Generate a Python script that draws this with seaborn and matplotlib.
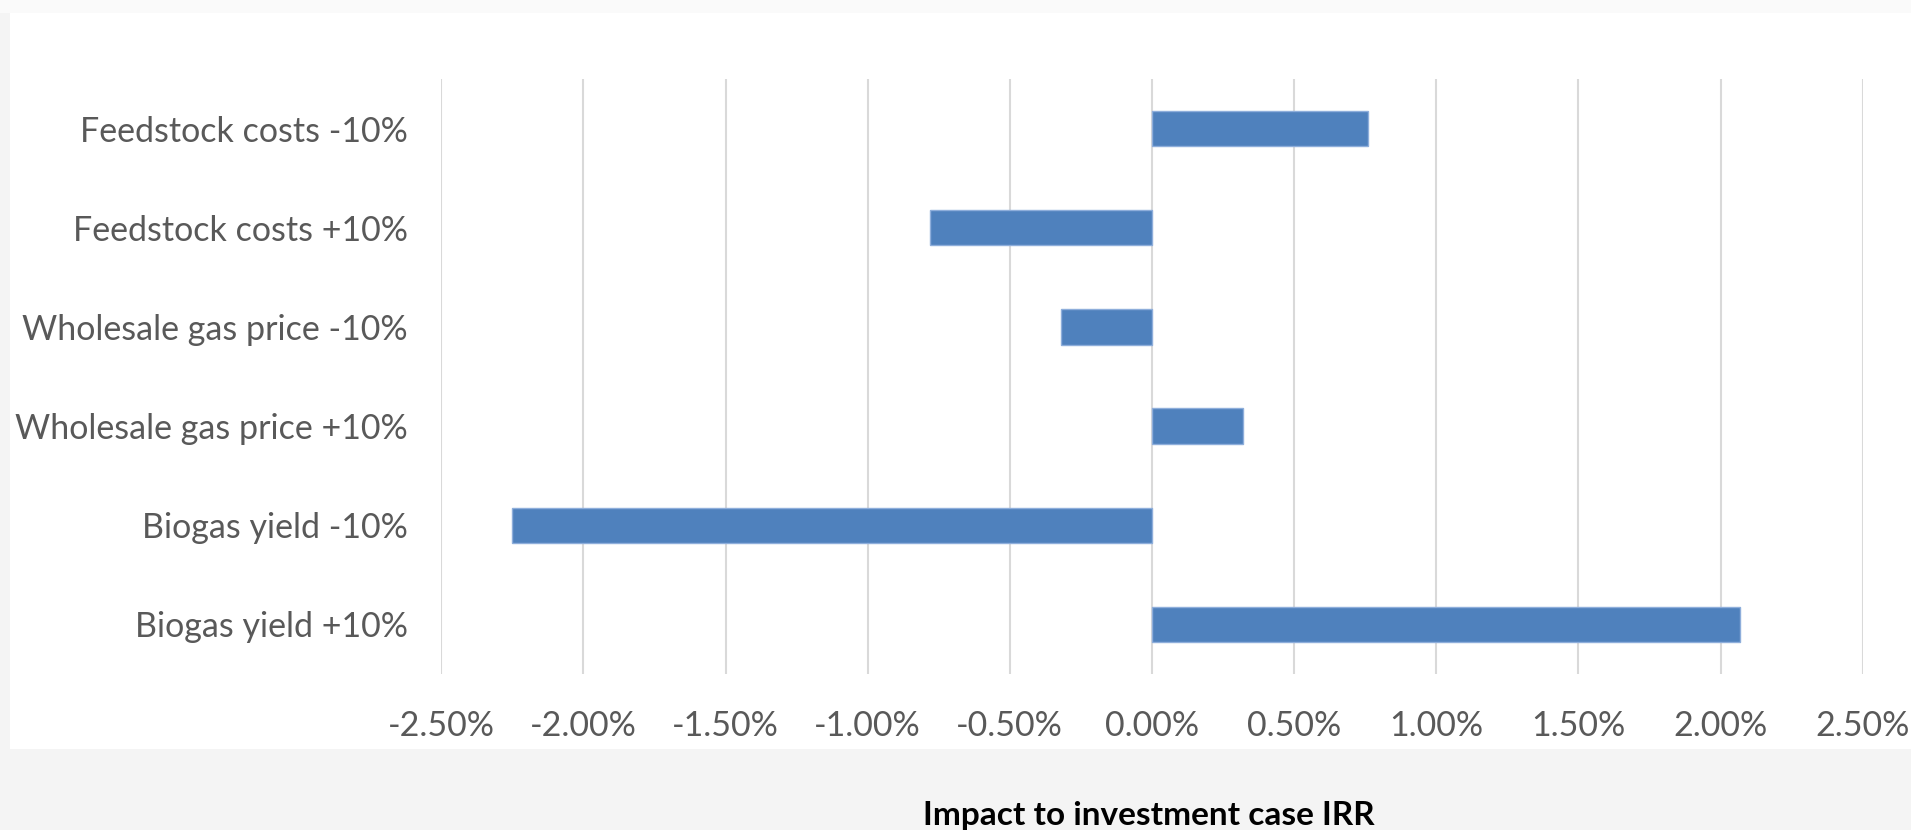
import matplotlib
matplotlib.use("Agg")
import matplotlib.pyplot as plt
from matplotlib.patches import Rectangle
from matplotlib.ticker import FuncFormatter
import seaborn as sns

# Sensitivity scenarios and their impact on IRR (percentage points)
scenarios = [
    "Feedstock costs -10%",
    "Feedstock costs +10%",
    "Wholesale gas price -10%",
    "Wholesale gas price +10%",
    "Biogas yield -10%",
    "Biogas yield +10%",
]
irr_impact = [0.76, -0.78, -0.32, 0.32, -2.25, 2.07]
x_ticks = [-2.5, -2.0, -1.5, -1.0, -0.5, 0.0, 0.5, 1.0, 1.5, 2.0, 2.5]
x_title = "Impact to investment case IRR"

sns.set_theme(style="white")
plt.rcParams["font.family"] = ["Lato", "DejaVu Sans"]
plt.rcParams["axes.unicode_minus"] = False

W, H, DPI = 1911, 830, 100
fig = plt.figure(figsize=(W / DPI, H / DPI), dpi=DPI, facecolor="#f4f4f4")

# panel backgrounds
fig.patches.append(Rectangle((0, 1 - 13 / H), 1, 13 / H, transform=fig.transFigure,
                             facecolor="#fafafa", edgecolor="none", zorder=-5))
fig.patches.append(Rectangle((10 / W, 1 - 749 / H), 1 - 10 / W, (749 - 13) / H,
                             transform=fig.transFigure, facecolor="white",
                             edgecolor="none", zorder=-5))

ax = fig.add_axes([441.2 / W, 1 - 674 / H, (1862.7 - 441.2) / W, (674 - 79) / H])
ax.set_facecolor("none")
ax.set_zorder(2)

sns.barplot(x=irr_impact, y=scenarios, orient="h", color="#4f81bd", saturation=1,
            width=0.357, edgecolor="#8eaedb", linewidth=1.0, ax=ax, zorder=3)

ax.set_xlim(-2.5, 2.5)
ax.set_xticks(x_ticks)
ax.xaxis.set_major_formatter(FuncFormatter(lambda v, p: f"{v:.2f}%"))
ax.grid(axis="x", color="#d9d9d9", linewidth=1.5, zorder=0)
ax.grid(axis="y", visible=False)
ax.set_axisbelow(True)
for s in ax.spines.values():
    s.set_visible(False)

ax.tick_params(axis="both", length=0, labelsize=24.5, colors="#595959")
ax.tick_params(axis="y", pad=24)
ax.tick_params(axis="x", pad=26)
ax.set_xlabel("")
ax.set_ylabel("")

fig.text((441.2 + 1862.7) / 2 / W - 3 / W, 1 - 815 / H, x_title, ha="center", va="center",
         fontsize=24, fontweight="bold", color="black")

fig.savefig("out.png", dpi=DPI, facecolor=fig.get_facecolor())
